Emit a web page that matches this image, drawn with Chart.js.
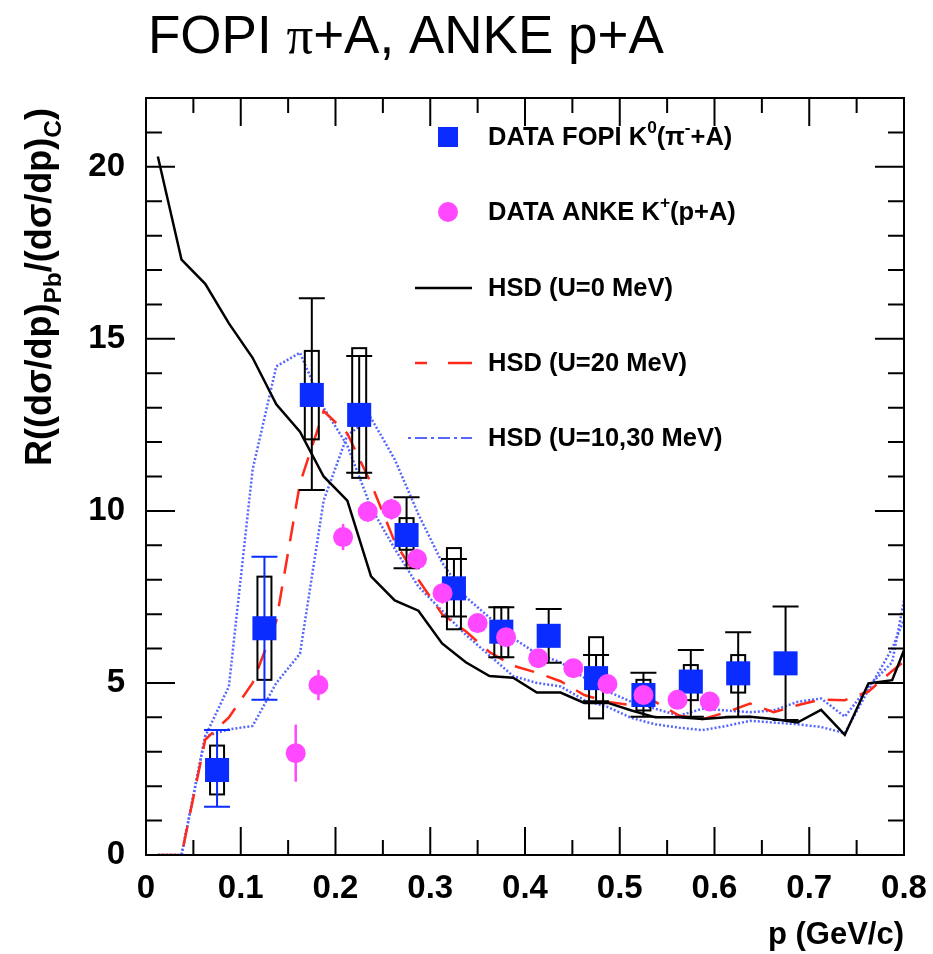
<!DOCTYPE html>
<html><head><meta charset="utf-8">
<script src="https://cdn.jsdelivr.net/npm/chart.js@4.4.0/dist/chart.umd.min.js"></script>
<style>html,body{margin:0;padding:0;background:#fff;}#wrap{width:933px;height:954px;}</style>
</head><body><div id="wrap"><canvas id="c" width="933" height="954"></canvas></div>
<script>
// ---- axis ticks ----
const X_TICKS = [0, 0.1, 0.2, 0.3, 0.4, 0.5, 0.6, 0.7, 0.8];
const X_TICK_LABELS = ['0', '0.1', '0.2', '0.3', '0.4', '0.5', '0.6', '0.7', '0.8'];
const Y_TICKS = [0, 5, 10, 15, 20];
const Y_TICK_LABELS = ['0', '5', '10', '15', '20'];

// ---- FOPI K0 (pi- + A) data ----
const FOPI_X = [0.075, 0.125, 0.175, 0.225, 0.275, 0.325, 0.375, 0.425, 0.475, 0.525, 0.575, 0.625, 0.675];
const FOPI_Y = [2.47, 6.59, 13.37, 12.79, 9.30, 7.75, 6.49, 6.37, 5.14, 4.65, 5.04, 5.28, 5.57];
const FOPI_STAT_HI = [3.63, 8.67, 16.18, 14.50, 10.40, 8.60, 7.20, 7.15, 5.81, 5.30, 5.96, 6.47, 7.22];
const FOPI_STAT_LO = [1.40, 4.51, 10.61, 11.11, 8.33, 6.93, 5.75, 5.59, 4.47, 4.02, 4.02, 4.02, 3.92];
const FOPI_SYS_HI = [3.18, 8.09, 14.65, 14.73, 9.79, 8.92, 7.20, null, 6.33, 5.09, 5.52, 5.81, null];
const FOPI_SYS_LO = [1.76, 5.09, 12.08, 10.96, 8.87, 6.56, 5.75, null, 3.97, 4.20, 4.50, 4.72, null];

// ---- ANKE K+ (p + A) data ----
const ANKE_X = [0.158, 0.182, 0.208, 0.234, 0.259, 0.286, 0.313, 0.350, 0.380, 0.414, 0.451, 0.487, 0.525, 0.561, 0.595];
const ANKE_Y = [2.96, 4.94, 9.24, 9.98, 10.05, 8.60, 7.61, 6.74, 6.33, 5.72, 5.43, 4.97, 4.65, 4.51, 4.46];
const ANKE_ERR = [0.83, 0.44, 0.38, 0.30, 0.30, 0.30, 0.30, 0.25, 0.25, 0.25, 0.20, 0.20, 0.20, 0.20, 0.20];

// ---- HSD calculations ----
const HSD_X = [0.0125, 0.0375, 0.0625, 0.0875, 0.1125, 0.1375, 0.1625, 0.1875, 0.2125, 0.2375,
               0.2625, 0.2875, 0.3125, 0.3375, 0.3625, 0.3875, 0.4125, 0.4375, 0.4625, 0.4875,
               0.5125, 0.5375, 0.5625, 0.5875, 0.6125, 0.6375, 0.6625, 0.6875, 0.7125, 0.7375,
               0.7625, 0.7875, 0.8];
const HSD_U0 = [20.3, 17.3, 16.6, 15.45, 14.45, 13.1, 12.3, 11.0, 10.3, 8.1,
                7.4, 7.1, 6.15, 5.6, 5.2, 5.15, 4.72, 4.72, 4.42, 4.42,
                4.2, 4.0, 4.0, 3.95, 4.0, 4.02, 3.95, 3.85, 4.22, 3.49,
                4.99, 5.08, 5.95];
const HSD_U20 = [0, 0, 3.35, 4.0, 5.0, 6.8, 10.8, 12.9, 12.25, 10.8,
                 9.1, 8.0, 7.0, 6.5, 5.9, 5.5, 5.3, 5.05, 4.65, 4.45,
                 4.35, 4.45, 4.05, 3.95, 4.15, 4.4, 4.15, 4.35, 4.52, 4.5,
                 4.75, 5.35, 5.62];
const HSD_U10 = [0, 0, 3.45, 4.9, 11.2, 14.2, 14.6, 13.0, 11.9, 10.1,
                 8.9, 7.8, 7.1, 6.4, 5.8, 5.2, 5.0, 4.9, 4.5, 4.3,
                 3.98, 3.8, 3.7, 3.63, 3.75, 3.9, 3.85, 3.8, 3.72, 3.54,
                 4.8, 6.0, 6.85];
const HSD_U30 = [0, 0, 3.45, 3.65, 3.75, 5.0, 5.85, 10.3, 12.2, 12.7,
                 11.5, 9.9, 8.5, 7.5, 6.9, 6.3, 5.85, 5.6, 5.15, 4.75,
                 4.45, 4.25, 4.05, 4.25, 4.2, 4.15, 4.2, 4.45, 4.55, 4.02,
                 4.9, 5.6, 7.4];

// ---- texts ----
const TITLE = [['FOPI ', 'n'], ['\u03c0', 'serif'], ['+A, ANKE p+A', 'n']];
const Y_TITLE = [['R((d\u03c3/dp)', 'n'], ['Pb', 'sub'], ['/(d\u03c3/dp)', 'n'], ['C', 'sub'], [')', 'n']];
const X_TITLE = 'p (GeV/c)';
const LEGEND = [
  [['DATA FOPI K', 'n'], ['0', 'sup'], ['(\u03c0', 'n'], ['-', 'sup'], ['+A)', 'n']],
  [['DATA ANKE K', 'n'], ['+', 'sup'], ['(p+A)', 'n']],
  [['HSD (U=0 MeV)', 'n']],
  [['HSD (U=20 MeV)', 'n']],
  [['HSD (U=10,30 MeV)', 'n']]
];

const BLUE = '#0b2cff', MAGENTA = '#ff48ff', RED = '#ff2a1a', DOTBLUE = '#5566ff';
const SANS = '"Liberation Sans", Arial, sans-serif';
const SERIF = '"Liberation Serif", "Times New Roman", serif';

function pts(xs, ys) { return xs.map((x, i) => ({ x: x, y: ys[i] })); }

function drawRich(ctx, segs, x, y, size, weight, align) {
  const sub = size * 0.68;
  const fontFor = m => {
    if (m === 'sup' || m === 'sub') return weight + ' ' + sub + 'px ' + SANS;
    if (m === 'serif') return 'normal ' + size + 'px ' + SERIF;
    return weight + ' ' + size + 'px ' + SANS;
  };
  let w = 0;
  segs.forEach(s => { ctx.font = fontFor(s[1]); w += ctx.measureText(s[0]).width; });
  let cx = align === 'right' ? x - w : x;
  segs.forEach(s => {
    ctx.font = fontFor(s[1]);
    let dy = 0;
    if (s[1] === 'sup') dy = -size * 0.38;
    if (s[1] === 'sub') dy = size * 0.28;
    ctx.fillText(s[0], cx, y + dy);
    cx += ctx.measureText(s[0]).width;
  });
  return w;
}

const errorPlugin = {
  id: 'errs',
  beforeDatasetDraw(chart, args) {
    const ds = chart.data.datasets[args.index];
    const { ctx, scales: { x, y } } = chart;
    ctx.save();
    if (ds.label === 'FOPI') {
      ctx.lineWidth = 2; ctx.strokeStyle = '#000';
      FOPI_X.forEach((v, i) => {
        if (FOPI_SYS_HI[i] == null) return;
        const px = x.getPixelForValue(v);
        const t = y.getPixelForValue(FOPI_SYS_HI[i]), b = y.getPixelForValue(FOPI_SYS_LO[i]);
        ctx.strokeRect(px - 7, t, 14, b - t);
      });
      FOPI_X.forEach((v, i) => {
        const px = x.getPixelForValue(v);
        const t = y.getPixelForValue(FOPI_STAT_HI[i]), b = y.getPixelForValue(FOPI_STAT_LO[i]);
        ctx.strokeStyle = v < 0.15 ? BLUE : '#000';
        ctx.beginPath();
        ctx.moveTo(px, t); ctx.lineTo(px, b);
        ctx.moveTo(px - 13, t); ctx.lineTo(px + 13, t);
        ctx.moveTo(px - 13, b); ctx.lineTo(px + 13, b);
        ctx.stroke();
      });
    }
    if (ds.label === 'ANKE') {
      ctx.lineWidth = 2.5; ctx.strokeStyle = MAGENTA;
      ANKE_X.forEach((v, i) => {
        const px = x.getPixelForValue(v);
        ctx.beginPath();
        ctx.moveTo(px, y.getPixelForValue(ANKE_Y[i] + ANKE_ERR[i]));
        ctx.lineTo(px, y.getPixelForValue(ANKE_Y[i] - ANKE_ERR[i]));
        ctx.stroke();
      });
    }
    ctx.restore();
  }
};

const framePlugin = {
  id: 'frame',
  afterDatasetsDraw(chart) {
    const { ctx, chartArea: a, scales: { x, y } } = chart;
    ctx.save();
    ctx.strokeStyle = '#000'; ctx.lineWidth = 2;
    ctx.strokeRect(a.left, a.top, a.right - a.left, a.bottom - a.top);
    ctx.beginPath();
    for (let i = 0; i < X_TICKS.length; i++) {
      const px = x.getPixelForValue(X_TICKS[i]);
      ctx.moveTo(px, a.bottom); ctx.lineTo(px, a.bottom - 28);
      ctx.moveTo(px, a.top); ctx.lineTo(px, a.top + 28);
      if (i < X_TICKS.length - 1) {
        const pm = x.getPixelForValue((X_TICKS[i] + X_TICKS[i + 1]) / 2);
        ctx.moveTo(pm, a.bottom); ctx.lineTo(pm, a.bottom - 15);
        ctx.moveTo(pm, a.top); ctx.lineTo(pm, a.top + 15);
      }
    }
    for (let v = 0; v <= y.max; v++) {
      const py = y.getPixelForValue(v);
      const len = Y_TICKS.includes(v) ? 29 : 16;
      ctx.moveTo(a.left, py); ctx.lineTo(a.left + len, py);
      ctx.moveTo(a.right, py); ctx.lineTo(a.right - len, py);
    }
    ctx.stroke();
    ctx.restore();
  },
  afterDraw(chart) {
    const { ctx } = chart;
    ctx.save();
    ctx.fillStyle = '#000';
    ctx.textBaseline = 'alphabetic';
    drawRich(ctx, TITLE, 148, 53, 53, 'normal', 'left');
    ctx.translate(51, 108);
    ctx.rotate(-Math.PI / 2);
    drawRich(ctx, Y_TITLE, 0, 0, 36, 'bold', 'right');
    ctx.restore();

    ctx.save();
    const ys = [137, 212, 288, 363, 438];
    ctx.fillStyle = BLUE; ctx.fillRect(438, ys[0] - 10, 20, 20);
    ctx.fillStyle = MAGENTA; ctx.beginPath(); ctx.arc(448, ys[1], 10, 0, Math.PI * 2); ctx.fill();
    ctx.lineWidth = 2.5;
    ctx.strokeStyle = '#000'; ctx.beginPath(); ctx.moveTo(415, ys[2]); ctx.lineTo(472, ys[2]); ctx.stroke();
    ctx.strokeStyle = RED; ctx.setLineDash([12, 21, 24, 100]); ctx.beginPath(); ctx.moveTo(415, ys[3]); ctx.lineTo(472, ys[3]); ctx.stroke();
    ctx.strokeStyle = DOTBLUE; ctx.lineWidth = 2; ctx.setLineDash([3, 4, 12, 4]); ctx.beginPath(); ctx.moveTo(408, ys[4]); ctx.lineTo(472, ys[4]); ctx.stroke();
    ctx.setLineDash([]);
    ctx.fillStyle = '#000';
    ctx.textBaseline = 'middle';
    LEGEND.forEach((segs, i) => drawRich(ctx, segs, 488, ys[i] + 1, 25.5, 'bold', 'left'));
    ctx.restore();
  }
};

const lineDs = (label, ys, color, width, dash, order) => ({
  label, data: pts(HSD_X, ys), showLine: true, borderColor: color, borderWidth: width,
  borderDash: dash, pointRadius: 0, fill: false, tension: 0, order
});

new Chart(document.getElementById('c'), {
  type: 'scatter',
  data: {
    datasets: [
      { label: 'ANKE', data: pts(ANKE_X, ANKE_Y), pointStyle: 'circle', pointRadius: 10,
        backgroundColor: MAGENTA, borderWidth: 0, order: 1 },
      { label: 'FOPI', data: pts(FOPI_X, FOPI_Y), pointStyle: 'rect', pointRadius: 17,
        backgroundColor: BLUE, borderWidth: 0, order: 2 },
      lineDs('HSD U=0', HSD_U0, '#000', 2.5, [], 3),
      lineDs('HSD U=20', HSD_U20, RED, 2.5, [20, 13], 4),
      lineDs('HSD U=10', HSD_U10, DOTBLUE, 2.5, [2, 2], 5),
      lineDs('HSD U=30', HSD_U30, DOTBLUE, 2.5, [2, 2], 6)
    ]
  },
  options: {
    responsive: false, animation: false, devicePixelRatio: 1,
    layout: { padding: { top: 98, right: 29, left: 0, bottom: 0 } },
    plugins: { legend: { display: false }, tooltip: { enabled: false }, title: { display: false } },
    scales: {
      x: {
        type: 'linear', min: 0, max: 0.8,
        afterBuildTicks: s => { s.ticks = X_TICKS.map(v => ({ value: v })); },
        afterFit: s => { s.height = 99; s.paddingLeft = 0; s.paddingRight = 0; },
        grid: { display: false, drawTicks: false }, border: { display: false },
        ticks: { autoSkip: false, maxRotation: 0, padding: 14, color: '#000',
                 font: { family: SANS, size: 33, weight: 'bold' },
                 callback: (v, i) => X_TICK_LABELS[i] },
        title: { display: true, text: X_TITLE, align: 'end', color: '#000',
                 font: { family: SANS, size: 31, weight: 'bold' }, padding: { top: 0, bottom: 0 } }
      },
      y: {
        type: 'linear', min: 0, max: 22,
        afterBuildTicks: s => { s.ticks = Y_TICKS.map(v => ({ value: v })); },
        afterFit: s => { s.width = 146; s.paddingTop = 0; s.paddingBottom = 0; },
        grid: { display: false, drawTicks: false }, border: { display: false },
        ticks: { padding: 21, color: '#000', font: { family: SANS, size: 33, weight: 'bold' },
                 callback: (v, i) => Y_TICK_LABELS[i] }
      }
    }
  },
  plugins: [errorPlugin, framePlugin]
});
</script></body></html>
